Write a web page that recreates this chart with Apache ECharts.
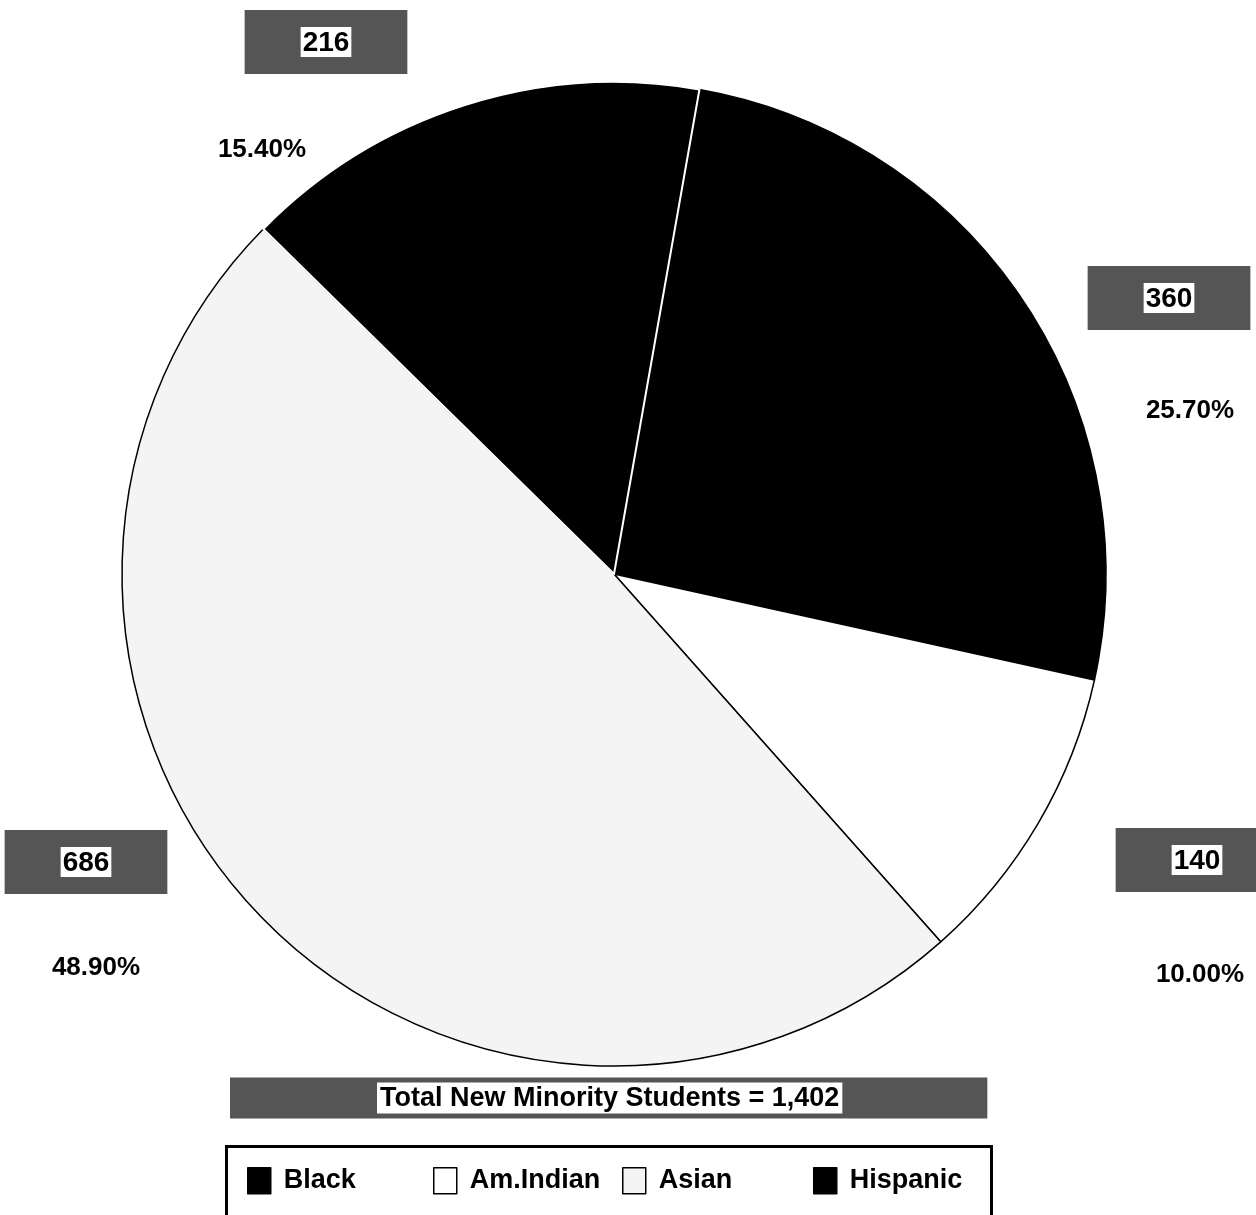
<!DOCTYPE html>
<html>
<head>
<meta charset="utf-8">
<script src="https://cdn.jsdelivr.net/npm/echarts@6/dist/echarts.min.js"></script>
<style>html,body{margin:0;padding:0;background:#fff;}#c{width:1256px;height:1215px;}</style>
</head>
<body>
<div id="c"></div>
<script>
// Data (clockwise order from the top)
var categories = ['Hispanic', 'Am.Indian', 'Asian', 'Black'];
var values = [360, 140, 686, 216];
var percentLabels = ['25.70%', '10.00%', '48.90%', '15.40%'];
var legendOrder = ['Black', 'Am.Indian', 'Asian', 'Hispanic'];
var titleText = 'Total New Minority Students = 1,402';

// Styles / layout
var sliceColors = {'Hispanic': '#000000', 'Am.Indian': '#ffffff', 'Asian': '#f4f4f4', 'Black': '#000000'};
var sliceBorders = {'Hispanic': '#000000', 'Am.Indian': '#000000', 'Asian': '#000000', 'Black': '#ffffff'};
var valuePos = [[1169, 298], [1197, 860], [86, 862], [326, 42]];
var pctPos = [[1190, 411], [1200, 975], [96, 968], [262, 150]];
var legendLeft = [247, 433, 622, 813];
var FONT = '"Liberation Sans", Arial, sans-serif';

var pieData = categories.map(function (c, i) {
  return {name: c, value: values[i],
    itemStyle: {color: sliceColors[c], borderColor: sliceBorders[c], borderWidth: c === 'Black' ? 2 : 1.5}};
});
var labelData = categories.map(function (c, i) {
  return {name: c, value: values[i]};
});

var legends = legendOrder.map(function (n, i) {
  return {
    data: [{name: n, itemStyle: {color: sliceColors[n], borderColor: '#000', borderWidth: 1.5}}],
    left: legendLeft[i], top: 1167,
    orient: 'horizontal',
    icon: 'rect',
    itemWidth: 23, itemHeight: 26,
    padding: 0,
    selectedMode: false,
    textStyle: {fontFamily: FONT, fontSize: 27, fontWeight: 'bold', color: '#000', padding: [0, 0, 0, 8]}
  };
});

var chart = echarts.init(document.getElementById('c'));
chart.setOption({
  animation: false,
  backgroundColor: '#ffffff',
  title: {
    text: '{t|' + titleText + '}',
    left: 230, top: 1077,
    backgroundColor: '#555555',
    padding: [5, 145, 5, 147],
    textStyle: {
      rich: {
        t: {fontFamily: FONT, fontSize: 27, fontWeight: 'bold', color: '#000',
            backgroundColor: '#ffffff', padding: [3, 3, 1, 3], lineHeight: 32}
      }
    }
  },
  legend: legends,
  graphic: [{
    type: 'rect',
    silent: true,
    shape: {x: 226.5, y: 1146.5, width: 765, height: 72},
    style: {fill: 'none', stroke: '#000', lineWidth: 3}
  }],
  series: [
    {
      type: 'pie',
      center: [614, 574],
      radius: 492,
      startAngle: 80,
      clockwise: true,
      avoidLabelOverlap: false,
      data: pieData,
      label: {
        show: true,
        formatter: function (p) { return percentLabels[p.dataIndex]; },
        fontFamily: FONT, fontSize: 26, fontWeight: 'bold', color: '#000'
      },
      labelLine: {show: false},
      labelLayout: function (p) {
        return {x: pctPos[p.dataIndex][0], y: pctPos[p.dataIndex][1], align: 'center', verticalAlign: 'middle'};
      },
      emphasis: {disabled: true}
    },
    {
      type: 'pie',
      center: [614, 574],
      radius: 492,
      startAngle: 80,
      clockwise: true,
      silent: true,
      avoidLabelOverlap: false,
      data: labelData,
      itemStyle: {color: 'rgba(0,0,0,0)', borderWidth: 0},
      label: {
        show: true,
        formatter: function (p) { return '{v|' + p.value + '}'; },
        backgroundColor: '#555555',
        padding: [16, 56, 16, 56],
        rich: {
          v: {fontFamily: FONT, fontSize: 28, fontWeight: 'bold', color: '#000',
              backgroundColor: '#ffffff', padding: [2, 2, 0, 2], lineHeight: 32}
        }
      },
      labelLine: {show: false},
      labelLayout: function (p) {
        return {x: valuePos[p.dataIndex][0], y: valuePos[p.dataIndex][1], align: 'center', verticalAlign: 'middle'};
      },
      emphasis: {disabled: true}
    }
  ]
});
</script>
</body>
</html>
